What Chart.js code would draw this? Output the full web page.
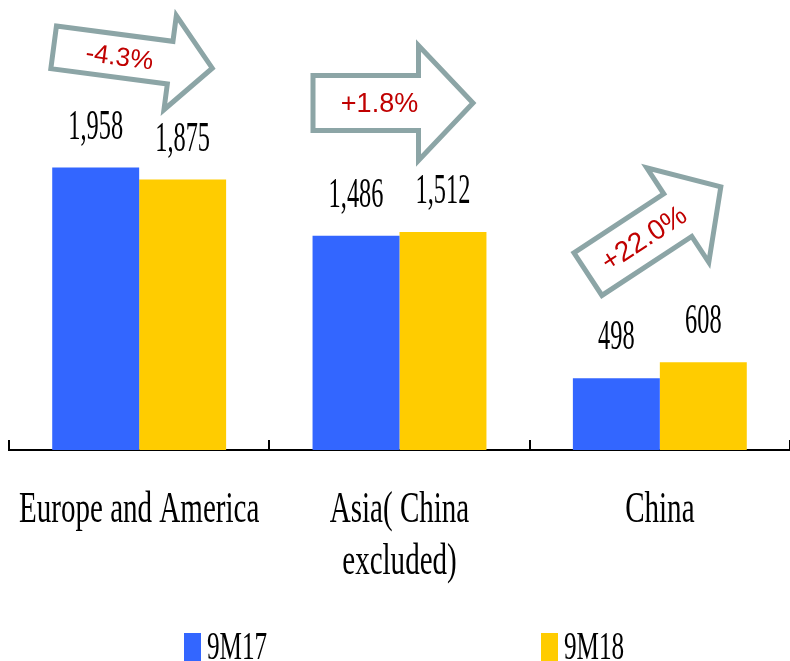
<!DOCTYPE html>
<html>
<head>
<meta charset="utf-8">
<script src="https://cdn.jsdelivr.net/npm/chart.js@4/dist/chart.umd.min.js"></script>
<style>
  html, body { margin: 0; padding: 0; background: #fff; }
  #wrap { width: 790px; height: 661px; position: relative; }
</style>
</head>
<body>
<div id="wrap"><canvas id="chart"></canvas></div>
<script>
// sales by region, 9M17 vs 9M18
const categories = ['Europe and America', ['Asia( China', 'excluded)'], 'China'];
const seriesNames = ['9M17', '9M18'];
const values9M17 = [1958, 1486, 498];
const values9M18 = [1875, 1512, 608];
const changeLabels = ['-4.3%', '+1.8%', '+22.0%'];

const BLUE = '#3366FF';
const YELLOW = '#FFCC00';
const ARROW_COLOR = '#8CA5A6';
const RED = '#C00000';
const SERIF = '"Liberation Serif", "Times New Roman", serif';
const SANS = '"Liberation Sans", Arial, sans-serif';

// outline arrows above each group: tail offset from category centre, rotation, outer sizes
const arrowShapes = [
  { dx: -88, y: 47,    angle: 7.5,   shaft: 120, length: 166, half: 24, headHalf: 50, font: 26 },
  { dx: -89, y: 103,   angle: 0,     shaft: 108, length: 166, half: 30, headHalf: 60, font: 27 },
  { dx: -74, y: 275.5, angle: -33.3, shaft: 110, length: 165, half: 28, headHalf: 59, font: 28 }
];

// draw text squeezed horizontally (condensed look)
function condensedText(ctx, text, x, y, size, squeeze) {
  ctx.save();
  ctx.font = size + 'px ' + SERIF;
  ctx.translate(x, y);
  ctx.scale(squeeze, 1);
  ctx.fillText(text, 0, 0);
  ctx.restore();
}

function drawArrow(ctx, a, x0, label) {
  const sw = 5;
  const h = a.half - sw / 2, H = a.headHalf - sw / 2;
  const t0 = sw / 2, t1 = a.shaft, tip = a.length - 3.5;
  ctx.save();
  ctx.translate(x0 + a.dx, a.y);
  ctx.rotate(a.angle * Math.PI / 180);
  ctx.beginPath();
  ctx.moveTo(t0, -h);
  ctx.lineTo(t1, -h);
  ctx.lineTo(t1, -H);
  ctx.lineTo(tip, 0);
  ctx.lineTo(t1, H);
  ctx.lineTo(t1, h);
  ctx.lineTo(t0, h);
  ctx.closePath();
  ctx.fillStyle = '#fff';
  ctx.fill();
  ctx.lineWidth = sw;
  ctx.lineJoin = 'miter';
  ctx.strokeStyle = ARROW_COLOR;
  ctx.stroke();
  ctx.fillStyle = RED;
  ctx.font = a.font + 'px ' + SANS;
  ctx.textAlign = 'center';
  ctx.textBaseline = 'middle';
  ctx.fillText(label, 69, 2);
  ctx.restore();
}

const annotations = {
  id: 'annotations',
  afterDatasetsDraw(chart) {
    const ctx = chart.ctx;
    const xs = chart.scales.x;
    const area = chart.chartArea;
    const base = area.bottom;

    // category separator ticks pointing up from the axis
    ctx.save();
    ctx.strokeStyle = '#000';
    ctx.lineWidth = 2;
    const step = (area.right - area.left) / categories.length;
    for (let i = 0; i <= categories.length; i++) {
      const x = Math.round(area.left + i * step);
      ctx.beginPath();
      ctx.moveTo(x, base - 10);
      ctx.lineTo(x, base);
      ctx.stroke();
    }
    ctx.restore();

    // value labels above bars
    ctx.save();
    ctx.fillStyle = '#000';
    ctx.textAlign = 'center';
    ctx.textBaseline = 'alphabetic';
    chart.data.datasets.forEach((ds, di) => {
      chart.getDatasetMeta(di).data.forEach((bar, i) => {
        condensedText(ctx, ds.data[i].toLocaleString('en-US'), bar.x, bar.y - 29, 42, 0.58);
      });
    });
    ctx.restore();

    // category labels under the axis
    ctx.save();
    ctx.fillStyle = '#000';
    ctx.textAlign = 'center';
    categories.forEach((c, i) => {
      const lines = Array.isArray(c) ? c : [c];
      const x = xs.getPixelForValue(i);
      lines.forEach((ln, k) => condensedText(ctx, ln, x, 522 + k * 52, 44, 0.66));
    });
    ctx.restore();

    // change arrows
    arrowShapes.forEach((a, i) => drawArrow(ctx, a, xs.getPixelForValue(i), changeLabels[i]));

    // legend
    ctx.save();
    const legendX = [184, 541];
    chart.data.datasets.forEach((ds, i) => {
      ctx.fillStyle = ds.backgroundColor;
      ctx.fillRect(legendX[i], 633, 17, 28);
      ctx.fillStyle = '#000';
      ctx.textAlign = 'left';
      condensedText(ctx, ds.label, legendX[i] + 23, 659, 40, 0.63);
    });
    ctx.restore();
  }
};

new Chart(document.getElementById('chart'), {
  type: 'bar',
  data: {
    labels: categories,
    datasets: [
      { label: seriesNames[0], data: values9M17, backgroundColor: BLUE },
      { label: seriesNames[1], data: values9M18, backgroundColor: YELLOW }
    ]
  },
  options: {
    responsive: true,
    maintainAspectRatio: false,
    animation: false,
    categoryPercentage: 0.668,
    barPercentage: 1.0,
    layout: { padding: { left: 9, right: 0, top: 0, bottom: 203 } },
    plugins: {
      legend: { display: false },
      tooltip: { enabled: false }
    },
    scales: {
      x: {
        grid: { display: false },
        ticks: { display: false },
        border: { display: true, color: '#000', width: 2 }
      },
      y: {
        display: false,
        min: 0,
        max: 3120
      }
    }
  },
  plugins: [annotations]
});
</script>
</body>
</html>
